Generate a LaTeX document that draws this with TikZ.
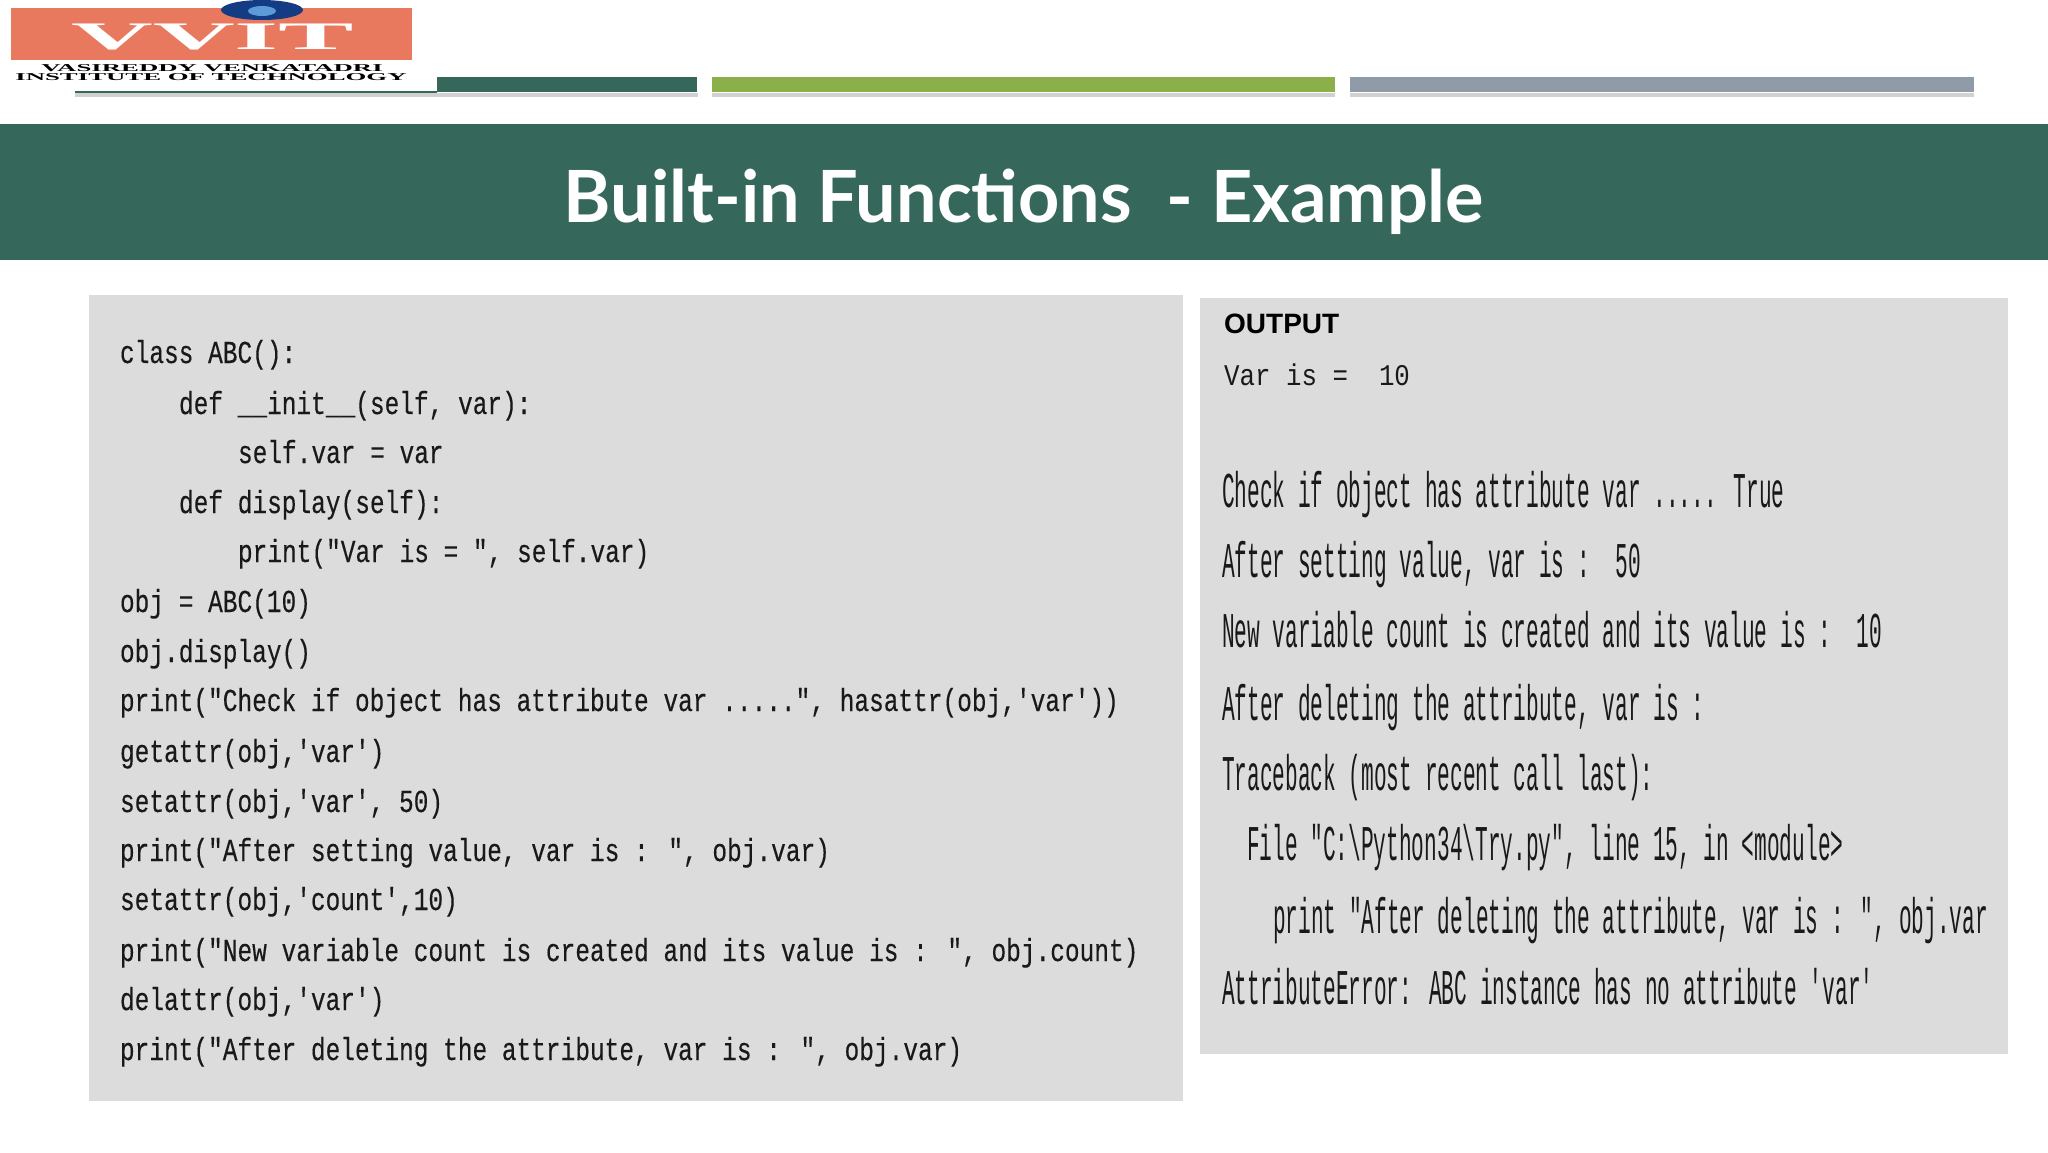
\documentclass[tikz,border=0pt]{standalone}
\usepackage{fontspec}
\setmainfont{Liberation Sans}
\newfontfamily\codefont[FakeStretch=0.765,FakeBold=0.25]{Liberation Mono}
\newfontfamily\outfont[FakeStretch=0.423]{Liberation Mono}
\newfontfamily\varfont[FakeStretch=0.86]{Liberation Mono}
\newfontfamily\titlefont{Lato}
\newfontfamily\logofont[FakeStretch=2.9]{Liberation Serif}
\newfontfamily\logosmall[FakeStretch=2.55]{Liberation Serif}
\definecolor{band}{HTML}{35675A}
\definecolor{leaf}{HTML}{8BB04A}
\definecolor{slate}{HTML}{8F9CA8}
\definecolor{panel}{HTML}{DCDCDC}
\definecolor{salmon}{HTML}{E8795F}
\definecolor{globe}{HTML}{143C84}
\definecolor{globelight}{HTML}{5C9AD8}
\tikzset{
  x=1pt,y=-1pt,
  bar/.style={fill=#1,draw=none},
  barshadow/.style={fill=black,fill opacity=0.18,draw=none},
  codeline/.style={anchor=base west,inner sep=0pt,outer sep=0pt,text=black!90,font=\codefont\fontsize{32}{32}\selectfont},
  outline/.style={anchor=base west,inner sep=0pt,outer sep=0pt,text=black!90,font=\outfont\fontsize{50}{50}\selectfont},
  logotext/.style={anchor=center,inner sep=0pt,text=black,font=\logosmall\bfseries\fontsize{10.5}{10.5}\selectfont}
}
\begin{document}
\begin{tikzpicture}
\useasboundingbox (0,0) rectangle (2048,1152);
\fill[white] (0,0) rectangle (2048,1152);
% top bars
\fill[barshadow] (75,93) rectangle (698,97);
\fill[barshadow] (712,93) rectangle (1335,97);
\fill[barshadow] (1350,93) rectangle (1974,97);
\fill[bar=band] (75,77) rectangle (697,92);
\fill[bar=leaf] (712,77) rectangle (1335,92);
\fill[bar=slate] (1350,77) rectangle (1974,92);
% logo
\fill[white] (0,0) rectangle (437,91);
\fill[band] (75,91) rectangle (437,93);
\fill[salmon] (11,8) rectangle (412,60);
\node[anchor=center,inner sep=0pt,text=white,font=\logofont\bfseries\fontsize{39}{39}\selectfont] (vvit) at (213,37) {VVIT};
\fill[globe] (262,10) ellipse [x radius=41,y radius=10];
\fill[globelight] (262,11) ellipse [x radius=14,y radius=5];
\node[logotext] (logoa) at (212,68) {VASIREDDY VENKATADRI};
\node[logotext] (logob) at (211,77) {INSTITUTE OF TECHNOLOGY};
% title band
\fill[band] (0,124) rectangle (2048,260);
\node[anchor=center,inner sep=0pt,text=white,font=\titlefont\bfseries\fontsize{72}{72}\selectfont] (title) at (1024,202) {Built-in Functions\ \ - Example};
% panels
\fill[panel] (89,295) rectangle (1183,1101);
\fill[panel] (1200,298) rectangle (2008,1054);
% code
\node[codeline] (c1) at (120,363) {class ABC():};
\node[codeline] (c2) at (179,414) {def \_\_init\_\_(self, var):};
\node[codeline] (c3) at (238,463) {self.var = var};
\node[codeline] (c4) at (179,513) {def display(self):};
\node[codeline] (c5) at (238,562) {print("Var is = ", self.var)};
\node[codeline] (c6) at (120,612) {obj = ABC(10)};
\node[codeline] (c7) at (120,662) {obj.display()};
\node[codeline] (c8) at (120,711) {print("Check if object has attribute var .....", hasattr(obj,'var'))};
\node[codeline] (c9) at (120,762) {getattr(obj,'var')};
\node[codeline] (c10) at (120,812) {setattr(obj,'var', 50)};
\node[codeline] (c11) at (120,861) {print("After setting value, var is : ", obj.var)};
\node[codeline] (c12) at (120,910) {setattr(obj,'count',10)};
\node[codeline] (c13) at (120,961) {print("New variable count is created and its value is : ", obj.count)};
\node[codeline] (c14) at (120,1010) {delattr(obj,'var')};
\node[codeline] (c15) at (120,1060) {print("After deleting the attribute, var is : ", obj.var)};
% output
\node[anchor=base west,inner sep=0pt,font=\bfseries\fontsize{28}{28}\selectfont] (outhead) at (1224,333) {OUTPUT};
\node[anchor=base west,inner sep=0pt,text=black!90,font=\varfont\fontsize{30}{30}\selectfont] (o0) at (1224,385) {Var is =\ \ 10};
\node[outline] (o1) at (1222,507) {Check if object has attribute var ..... True};
\node[outline] (o2) at (1222,577) {After setting value, var is :\ \ 50};
\node[outline] (o3) at (1222,647) {New variable count is created and its value is :\ \ 10};
\node[outline] (o4) at (1222,720) {After deleting the attribute, var is :};
\node[outline] (o5) at (1222,790) {Traceback (most recent call last):};
\node[outline] (o6) at (1247,860) {File "C:\textbackslash Python34\textbackslash Try.py", line 15, in <module>};
\node[outline] (o7) at (1273,933) {print "After deleting the attribute, var is : ", obj.var};
\node[outline] (o8) at (1222,1004) {AttributeError: ABC instance has no attribute 'var'};
\end{tikzpicture}
\end{document}
